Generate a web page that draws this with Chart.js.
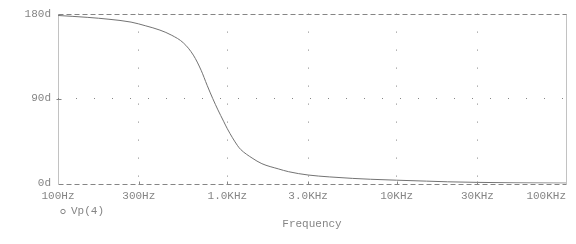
<!DOCTYPE html>
<html><head><meta charset="utf-8">
<script src="https://cdn.jsdelivr.net/npm/chart.js@4"></script>
<style>html,body{margin:0;padding:0;background:#fff}#wrap{width:576px;height:244px}</style>
</head><body><div id="wrap"><canvas id="c" width="576" height="244"></canvas></div>
<script>
const frequencies = [100, 150, 200, 270, 330, 400, 470, 550, 630, 700, 760, 820, 880, 950, 1000, 1150, 1200, 1400, 1600, 2000, 2300, 3000, 4000, 5500, 7000, 10000, 15000, 20000, 30000, 50000, 100000];
const phaseDeg = [178, 176, 174, 171, 167, 162.5, 157, 149, 136, 120, 104, 90, 78, 66, 58, 40, 36, 27, 21, 15.5, 12.5, 9, 7, 5.4, 4.5, 3.5, 2.5, 1.8, 1.2, 0.7, 0.4];
const xTickValues = [100, 300, 1000, 3000, 10000, 30000, 100000];
const xTickLabels = ['100Hz', '300Hz', '1.0KHz', '3.0KHz', '10KHz', '30KHz', '100KHz'];
const yTickValues = [0, 90, 180];
const yTickLabels = ['0d', '90d', '180d'];
const seriesName = 'Vp(4)';
const xTitle = 'Frequency';

const GRAY = '#858585';
const FONT = '"Liberation Mono", "DejaVu Sans Mono", monospace';
const FSIZE = 11;

const framePlugin = {
  id: 'frame',
  afterDraw(chart) {
    const {ctx, chartArea: a} = chart;
    const L = Math.round(a.left) + 0.5, R = Math.round(a.right) + 0.5;
    const T = Math.round(a.top) + 0.5, B = Math.round(a.bottom) + 0.5;
    ctx.save();
    ctx.strokeStyle = GRAY; ctx.lineWidth = 1;
    ctx.setLineDash([5, 3]);
    ctx.beginPath(); ctx.moveTo(L, T); ctx.lineTo(R, T); ctx.moveTo(L, B); ctx.lineTo(R, B); ctx.stroke();
    ctx.setLineDash([1, 1]);
    ctx.beginPath(); ctx.moveTo(L, T); ctx.lineTo(L, B); ctx.moveTo(R, T); ctx.lineTo(R, B); ctx.stroke();
    ctx.setLineDash([]);
    const xs = chart.scales.x;
    ctx.beginPath();
    xTickValues.slice(1, -1).forEach(v => {
      const px = Math.round(xs.getPixelForValue(v)) + 0.5;
      ctx.moveTo(px, B); ctx.lineTo(px, B - 3);
    });
    const ys = chart.scales.y;
    const py = Math.round(ys.getPixelForValue(90)) + 0.5;
    ctx.moveTo(L - 2, py); ctx.lineTo(L + 3, py);
    ctx.stroke();
    // legend entry
    ctx.beginPath(); ctx.arc(63, 211.5, 2.2, 0, Math.PI * 2); ctx.stroke();
    ctx.fillStyle = GRAY;
    ctx.font = FSIZE + 'px ' + FONT;
    ctx.textBaseline = 'middle'; ctx.textAlign = 'left';
    ctx.fillText(chart.data.datasets[0].label, 71, 211);
    ctx.restore();
  }
};

new Chart(document.getElementById('c'), {
  type: 'line',
  data: {
    datasets: [{
      label: seriesName,
      data: frequencies.map((f, i) => ({x: f, y: phaseDeg[i]})),
      borderColor: '#737373',
      borderWidth: 1,
      pointRadius: 0,
      cubicInterpolationMode: 'monotone',
      fill: false
    }]
  },
  options: {
    responsive: false,
    animation: false,
    devicePixelRatio: 1,
    layout: {padding: {left: 0, right: 10, top: 10, bottom: 0}},
    plugins: {legend: {display: false}, tooltip: {enabled: false}},
    scales: {
      x: {
        type: 'logarithmic', min: 100, max: 100000,
        afterBuildTicks(s) { s.ticks = xTickValues.map(v => ({value: v})); },
        afterFit(s) { s.height = 60.5; s.paddingLeft = 0; s.paddingRight = 0; },
        ticks: {
          autoSkip: false, maxRotation: 0, color: GRAY, padding: 6,
          font: {family: FONT, size: FSIZE},
          callback(v) {
            const i = xTickValues.indexOf(v);
            if (i < 0) return '';
            const t = xTickLabels[i];
            // last label sits flush with the right edge of the plot
            return i === xTickValues.length - 1 ? t + ' '.repeat(t.length) : t;
          }
        },
        grid: {
          drawTicks: false, color: (c) => (c.index === 0 || c.index === xTickValues.length - 1) ? 'rgba(0,0,0,0)' : GRAY,
          lineWidth: 1
        },
        border: {display: false, dash: [1, 17]},
        title: {display: true, text: xTitle, color: GRAY, font: {family: FONT, size: FSIZE}, padding: {top: 0, bottom: 13}}
      },
      y: {
        min: 0, max: 180,
        afterBuildTicks(s) { s.ticks = yTickValues.map(v => ({value: v})); },
        afterFit(s) { s.width = 58; },
        ticks: {
          color: GRAY, padding: 7, font: {family: FONT, size: FSIZE},
          callback(v) { const i = yTickValues.indexOf(v); return i >= 0 ? yTickLabels[i] : ''; }
        },
        grid: {
          drawTicks: false, color: (c) => c.tick && c.tick.value === 90 ? GRAY : 'rgba(0,0,0,0)',
          lineWidth: 1
        },
        border: {display: false, dash: [1, 17]}
      }
    }
  },
  plugins: [framePlugin]
});
</script>
</body></html>
